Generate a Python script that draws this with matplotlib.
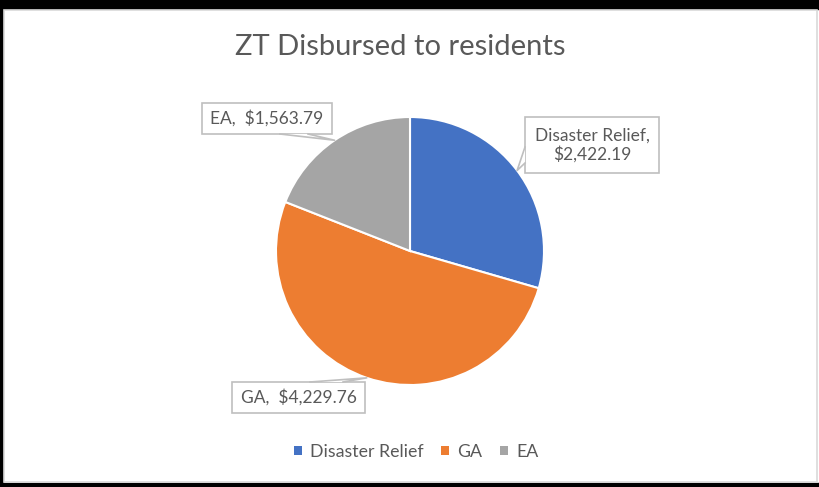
import numpy as np
import matplotlib
matplotlib.use('Agg')
import matplotlib.pyplot as plt
from matplotlib.patches import Rectangle, Patch, Polygon

plt.rcParams['font.family'] = ['Lato', 'DejaVu Sans']

# data
labels = ['Disaster Relief', 'GA', 'EA']
values = [2422.19, 4229.76, 1563.79]
colors = ['#4472C4', '#ED7D31', '#A5A5A5']

W, H = 820, 487
txt = '#595959'
edge = '#BFBFBF'

fig = plt.figure(figsize=(W / 100, H / 100), dpi=100)
ax = fig.add_axes([0, 0, 1, 1])


def Y(y):  # pixel row -> axes y
    return H - y


# frame of the screenshot
ax.add_patch(Rectangle((0, Y(9)), W, 9, color='black', zorder=0))
ax.add_patch(Rectangle((0, 0), 3, H, color='black', zorder=0))
ax.add_patch(Rectangle((0, 0), W, 4, color='black', zorder=0))
ax.add_patch(Rectangle((4, Y(482)), 813, 472, fc='white', ec='#D9D9D9', lw=1.2, zorder=0))

ax.text(400, Y(47), 'ZT Disbursed to residents', ha='center', va='center',
        fontsize=21, color=txt)

cx, cy, r = 410, Y(251), 134
wedges, _ = ax.pie(values, colors=colors, startangle=90, counterclock=False,
                   center=(cx, cy), radius=r, frame=True,
                   wedgeprops=dict(edgecolor='white', linewidth=1.5))
ax.set_xlim(0, W)
ax.set_ylim(0, H)
ax.set_aspect('equal')
ax.axis('off')

# callout boxes: (box x0, y0, x1, y1), pointer base points
boxes = {
    'Disaster Relief': ((525, 117, 659, 173), [(525, 147), (525, 163)]),
    'GA': ((232, 382, 365, 413), [(310, 382), (343, 382)]),
    'EA': ((202, 103, 332, 134), [(280, 134), (308, 134)]),
}
texts = {
    'Disaster Relief': 'Disaster Relief,\n$' + format(values[0], ',.2f'),
    'GA': 'GA,  $' + format(values[1], ',.2f'),
    'EA': 'EA,  $' + format(values[2], ',.2f'),
}

for w, lab in zip(wedges, labels):
    mid = np.deg2rad((w.theta1 + w.theta2) / 2)
    tip = (cx + r * np.cos(mid), cy + r * np.sin(mid))
    (x0, y0, x1, y1), base = boxes[lab]
    ax.add_patch(Rectangle((x0, Y(y1)), x1 - x0, y1 - y0, fc='white', ec=edge, lw=1.2, zorder=5))
    b = [(bx, Y(by)) for bx, by in base]
    ax.add_patch(Polygon([b[0], tip, b[1]], closed=True, fc='white', ec='none', zorder=6))
    ax.plot([b[0][0], tip[0], b[1][0]], [b[0][1], tip[1], b[1][1]], color=edge, lw=1.2, zorder=6)
    ax.text((x0 + x1) / 2, Y((y0 + y1) / 2), texts[lab], ha='center', va='center',
            fontsize=12.5, color=txt, linespacing=1.2, zorder=7)

handles = [Patch(facecolor=c, label=l) for c, l in zip(colors, labels)]
leg = ax.legend(handles=handles, loc='center', bbox_to_anchor=(416 / W, 1 - 452 / H),
                ncol=3, frameon=False, fontsize=12.8, handlelength=0.45, handleheight=0.45,
                handletextpad=0.45, columnspacing=1.0)
for t in leg.get_texts():
    t.set_color(txt)

fig.savefig('out.png', dpi=100)
